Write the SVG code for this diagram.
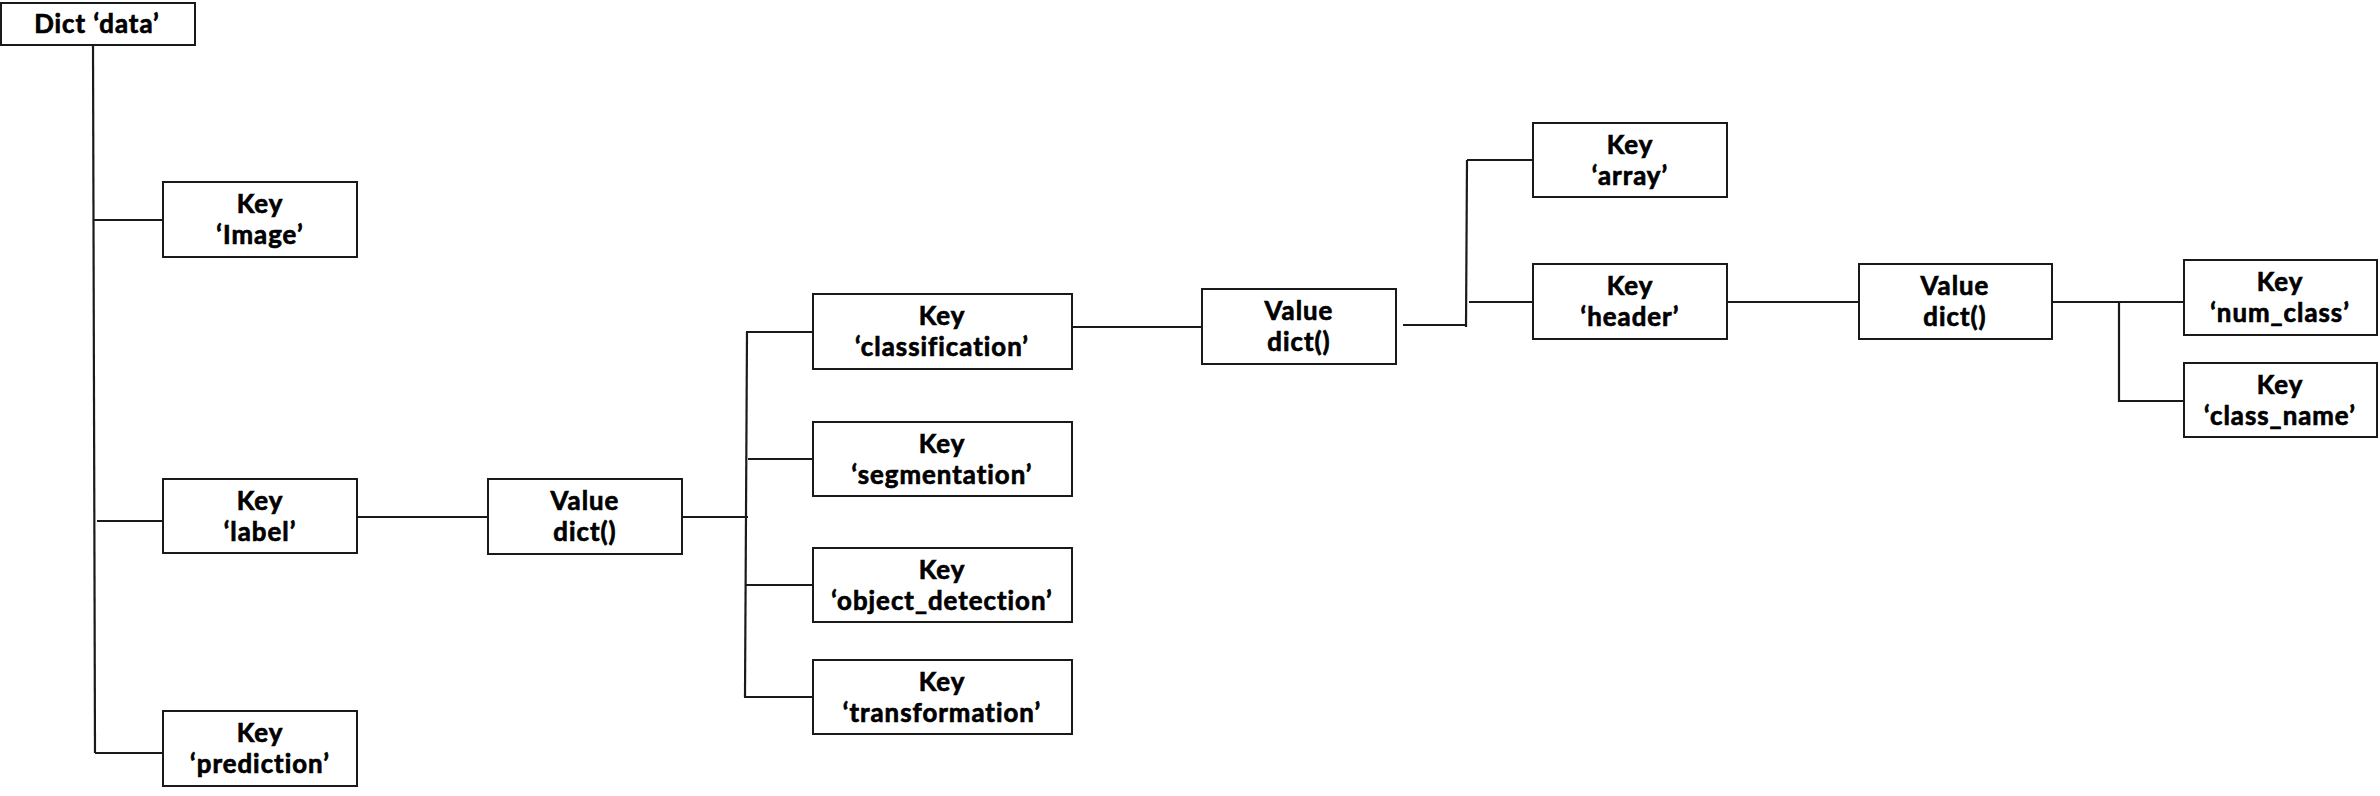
<svg xmlns="http://www.w3.org/2000/svg" width="2380" height="796" viewBox="0 0 2380 796">
<style>
.box{fill:#fff;stroke:#1a1a1a;stroke-width:2}
.t{font-family:Lato,"Noto Sans CJK KR",sans-serif;font-weight:bold;font-size:25.8px;letter-spacing:1px;font-variant-ligatures:none;fill:#000;stroke:#000;stroke-width:0.7px;text-anchor:middle}
.c{fill:none;stroke:#1a1a1a;stroke-width:2.2}
</style>
<rect width="2380" height="796" fill="#fff"/>
<g id="connectors">
<path class="c" d="M93 45 L95 753"/>
<path class="c" d="M93 220 H163"/>
<path class="c" d="M97 521 H163"/>
<path class="c" d="M95 753 H163"/>
<path class="c" d="M357 517 H488"/>
<path class="c" d="M682 517 H748"/>
<path class="c" d="M747 332 L745 697"/>
<path class="c" d="M746 332 H813"/>
<path class="c" d="M748 459 H813"/>
<path class="c" d="M745 585 H813"/>
<path class="c" d="M744 697 H813"/>
<path class="c" d="M1072 327 H1202"/>
<path class="c" d="M1403 325 H1467"/>
<path class="c" d="M1467 160 L1466 327"/>
<path class="c" d="M1467 160 H1533"/>
<path class="c" d="M1469 302 H1533"/>
<path class="c" d="M1727 302 H1859"/>
<path class="c" d="M2052 302 H2184"/>
<path class="c" d="M2119 302 V401 H2184"/>
</g>
<g id="dict_data"><rect class="box" x="1" y="3" width="194" height="42"/><text class="t" x="97" y="33">Dict ‘data’</text></g>
<g id="key_image"><rect class="box" x="163" y="182" width="194" height="75"/><text class="t" x="260" y="213">Key<tspan x="260" dy="31">‘Image’</tspan></text></g>
<g id="key_label"><rect class="box" x="163" y="479" width="194" height="74"/><text class="t" x="260" y="510">Key<tspan x="260" dy="31">‘label’</tspan></text></g>
<g id="key_prediction"><rect class="box" x="163" y="711" width="194" height="75"/><text class="t" x="260" y="742">Key<tspan x="260" dy="31">‘prediction’</tspan></text></g>
<g id="value_label"><rect class="box" x="488" y="479" width="194" height="75"/><text class="t" x="585" y="510">Value<tspan x="585" dy="31">dict()</tspan></text></g>
<g id="key_classification"><rect class="box" x="813" y="294" width="259" height="75"/><text class="t" x="942" y="325">Key<tspan x="942" dy="31">‘classification’</tspan></text></g>
<g id="key_segmentation"><rect class="box" x="813" y="422" width="259" height="74"/><text class="t" x="942" y="453">Key<tspan x="942" dy="31">‘segmentation’</tspan></text></g>
<g id="key_object_detection"><rect class="box" x="813" y="548" width="259" height="74"/><text class="t" x="942" y="579">Key<tspan x="942" dy="31">‘object_detection’</tspan></text></g>
<g id="key_transformation"><rect class="box" x="813" y="660" width="259" height="74"/><text class="t" x="942" y="691">Key<tspan x="942" dy="31">‘transformation’</tspan></text></g>
<g id="value_classification"><rect class="box" x="1202" y="289" width="194" height="75"/><text class="t" x="1299" y="320">Value<tspan x="1299" dy="31">dict()</tspan></text></g>
<g id="key_array"><rect class="box" x="1533" y="123" width="194" height="74"/><text class="t" x="1630" y="154">Key<tspan x="1630" dy="31">‘array’</tspan></text></g>
<g id="key_header"><rect class="box" x="1533" y="264" width="194" height="75"/><text class="t" x="1630" y="295">Key<tspan x="1630" dy="31">‘header’</tspan></text></g>
<g id="value_header"><rect class="box" x="1859" y="264" width="193" height="75"/><text class="t" x="1955" y="295">Value<tspan x="1955" dy="31">dict()</tspan></text></g>
<g id="key_num_class"><rect class="box" x="2184" y="260" width="193" height="75"/><text class="t" x="2280" y="291">Key<tspan x="2280" dy="31">‘num_class’</tspan></text></g>
<g id="key_class_name"><rect class="box" x="2184" y="363" width="193" height="74"/><text class="t" x="2280" y="394">Key<tspan x="2280" dy="31">‘class_name’</tspan></text></g>
</svg>
